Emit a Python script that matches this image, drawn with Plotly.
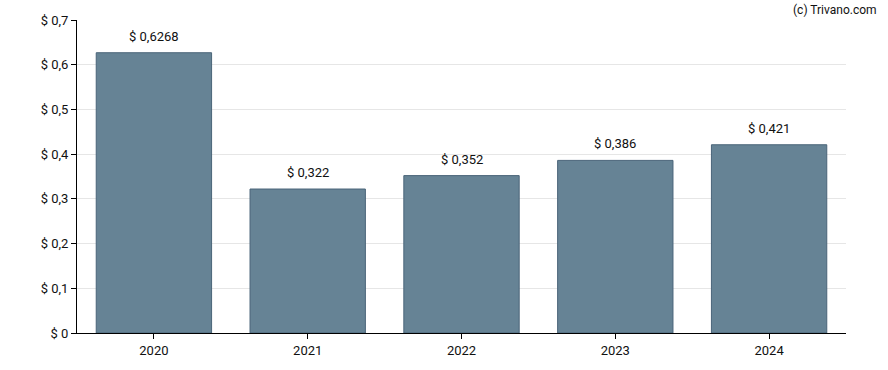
import plotly.graph_objects as go

years = ["2020", "2021", "2022", "2023", "2024"]
values = [0.6268, 0.322, 0.352, 0.386, 0.421]
labels = ["$ 0,6268", "$ 0,322", "$ 0,352", "$ 0,386", "$ 0,421"]
tick_vals = [0, 0.1, 0.2, 0.3, 0.4, 0.5, 0.6, 0.7]
tick_text = ["$ 0", "$ 0,1", "$ 0,2", "$ 0,3", "$ 0,4", "$ 0,5", "$ 0,6", "$ 0,7"]

FONT = "Roboto, Arial, sans-serif"

fig = go.Figure()
fig.add_trace(go.Bar(
    x=years, y=values,
    marker=dict(color="#668395", line=dict(color="#4a6479", width=1)),
    hoverinfo="skip",
))
for i, (v, t) in enumerate(zip(values, labels)):
    fig.add_annotation(x=i, y=v, text=t, showarrow=False, yanchor="bottom", yshift=7,
                       font=dict(family=FONT, size=13, color="#111"))
fig.add_annotation(xref="paper", yref="paper", x=1.0, xshift=33, y=1.0, yshift=1,
                   xanchor="right", yanchor="bottom",
                   text="(c) Trivano.com", showarrow=False,
                   font=dict(family=FONT, size=12, color="#111"))

fig.update_layout(
    width=888, height=370,
    margin=dict(l=77, r=42, t=20, b=32),
    plot_bgcolor="white", paper_bgcolor="white",
    bargap=0.25, showlegend=False,
    font=dict(family=FONT, size=13, color="#111"),
    xaxis=dict(type="category", range=[-0.5, 4.5], showline=True, linecolor="black", linewidth=1,
               ticks="outside", ticklen=5, tickcolor="black", showgrid=False),
    yaxis=dict(range=[0, 0.7], tickvals=tick_vals, ticktext=tick_text, showline=True,
               linecolor="black", linewidth=1, ticks="outside", ticklen=5, tickcolor="black",
               showgrid=True, gridcolor="#e6e6e6", zeroline=False),
)
fig.write_html("out.html", config={"displayModeBar": False},
               post_script="document.body.style.margin='0px';")
